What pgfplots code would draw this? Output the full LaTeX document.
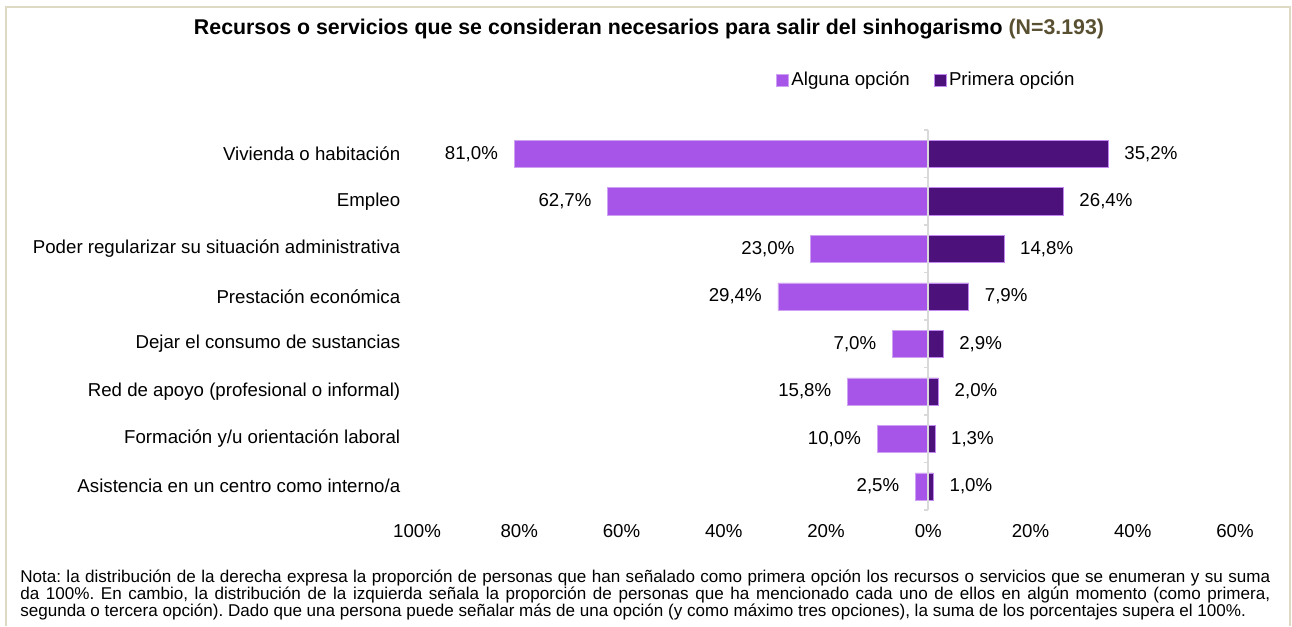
\documentclass[border=0pt]{standalone}
\usepackage{pgfplots}
\pgfplotsset{compat=1.18}
\usepackage{pgfplotstable}
\usepackage{fontspec}
\setmainfont{Liberation Sans}
\frenchspacing

\definecolor{alguna}{RGB}{167,85,233}
\definecolor{primera}{RGB}{76,17,122}
\definecolor{marco}{RGB}{221,217,195}
\definecolor{nval}{RGB}{89,80,50}

% idx: 0 = top category
\pgfplotstableread{
idx alguna primera
0   81.0   35.2
1   62.7   26.4
2   23.0   14.8
3   29.4    7.9
4    7.0    2.9
5   15.8    2.0
6   10.0    1.3
7    2.5    1.0
}\datos

\begin{document}
\begin{tikzpicture}
\useasboundingbox (0,0) rectangle (969pt,-469.5pt);
\draw[marco, line width=1.1pt] (4.5pt,-469.5pt) -- (4.5pt,-5.25pt) -- (967.5pt,-5.25pt) -- (967.5pt,-469.5pt);

\node[font=\bfseries\fontsize{16}{19}\selectfont] at (486.75pt,-21.5pt)
  {Recursos o servicios que se consideran necesarios para salir del sinhogarismo \textcolor{nval}{(N=3.193)}};

\begin{axis}[
    at={(312.75pt,-382.5pt)}, anchor=south west,
    scale only axis, width=613.5pt, height=285pt,
    xbar, bar width=20.25pt,
    xmin=-100, xmax=60, ymin=-0.5, ymax=7.5,
    y dir=reverse, enlargelimits=false, clip=false,
    axis line style={draw=none}, major tick style={draw=none},
    xtick={-100,-80,-60,-40,-20,0,20,40,60},
    xticklabels={100\%,80\%,60\%,40\%,20\%,0\%,20\%,40\%,60\%},
    ytick={0,1,2,3,4,5,6,7},
    yticklabels={Vivienda o habitación, Empleo, Poder regularizar su situación administrativa,
      Prestación económica, Dejar el consumo de sustancias, Red de apoyo (profesional o informal),
      Formación y/u orientación laboral, Asistencia en un centro como interno/a},
    tick label style={font=\fontsize{14}{16}\selectfont},
    yticklabel style={xshift=-4.8pt},
    xticklabel style={yshift=-7.5pt},
    /pgf/number format/.cd, use comma, fixed, fixed zerofill, precision=1, assume math mode=true,
    /pgfplots/.cd,
    nodes near coords={\pgfmathprintnumber{\pgfplotspointmeta}\%},
    every node near coord/.append style={font=\fontsize{14}{16}\selectfont, inner sep=0pt, text=black},
    legend columns=2,
    legend style={at={(0.434,1.1316)}, anchor=west, draw=none, fill=none,
      font=\fontsize{14}{16}\selectfont,
      /tikz/every even column/.append style={column sep=16pt}},
    legend image code/.code={\fill[#1] (0pt,-4.5pt) rectangle (9pt,4.5pt);},
]
\addplot[fill=alguna, draw=alguna!55!white, line width=0.4pt, bar shift=0pt,
    point meta=\thisrow{alguna},
    every node near coord/.append style={anchor=east, xshift=-12pt}]
    table[x expr=-\thisrow{alguna}, y=idx] {\datos};
\addlegendentry{Alguna opción}
\addplot[fill=primera, draw=alguna!70!white, line width=0.4pt, bar shift=0pt,
    point meta=\thisrow{primera},
    every node near coord/.append style={anchor=west, xshift=12pt}]
    table[x=primera, y=idx] {\datos};
\addlegendentry{Primera opción}
\draw[black!15, line width=1.5pt] (axis cs:0,-0.5) -- (axis cs:0,7.5);
\pgfplotsinvokeforeach{-0.5,0.5,1.5,2.5,3.5,4.5,5.5,6.5,7.5}{
  \draw[black!15, line width=1pt] (axis cs:0,#1) -- ++(-3.5pt,0pt);
}
\end{axis}

\node[anchor=north west, inner sep=0pt, text width=937.5pt, align=justify,
      font=\fontsize{12.8}{12.75}\selectfont] at (15pt,-427.5pt)
  {Nota: la distribución de la derecha expresa la proporción de personas que han señalado como primera opción los recursos o servicios que se enumeran y su suma\linebreak da 100\%. En cambio, la distribución de la izquierda señala la proporción de personas que ha mencionado cada uno de ellos en algún momento (como primera,\linebreak segunda o tercera opción). Dado que una persona puede señalar más de una opción (y como máximo tres opciones), la suma de los porcentajes supera el 100\%.};
\end{tikzpicture}
\end{document}
